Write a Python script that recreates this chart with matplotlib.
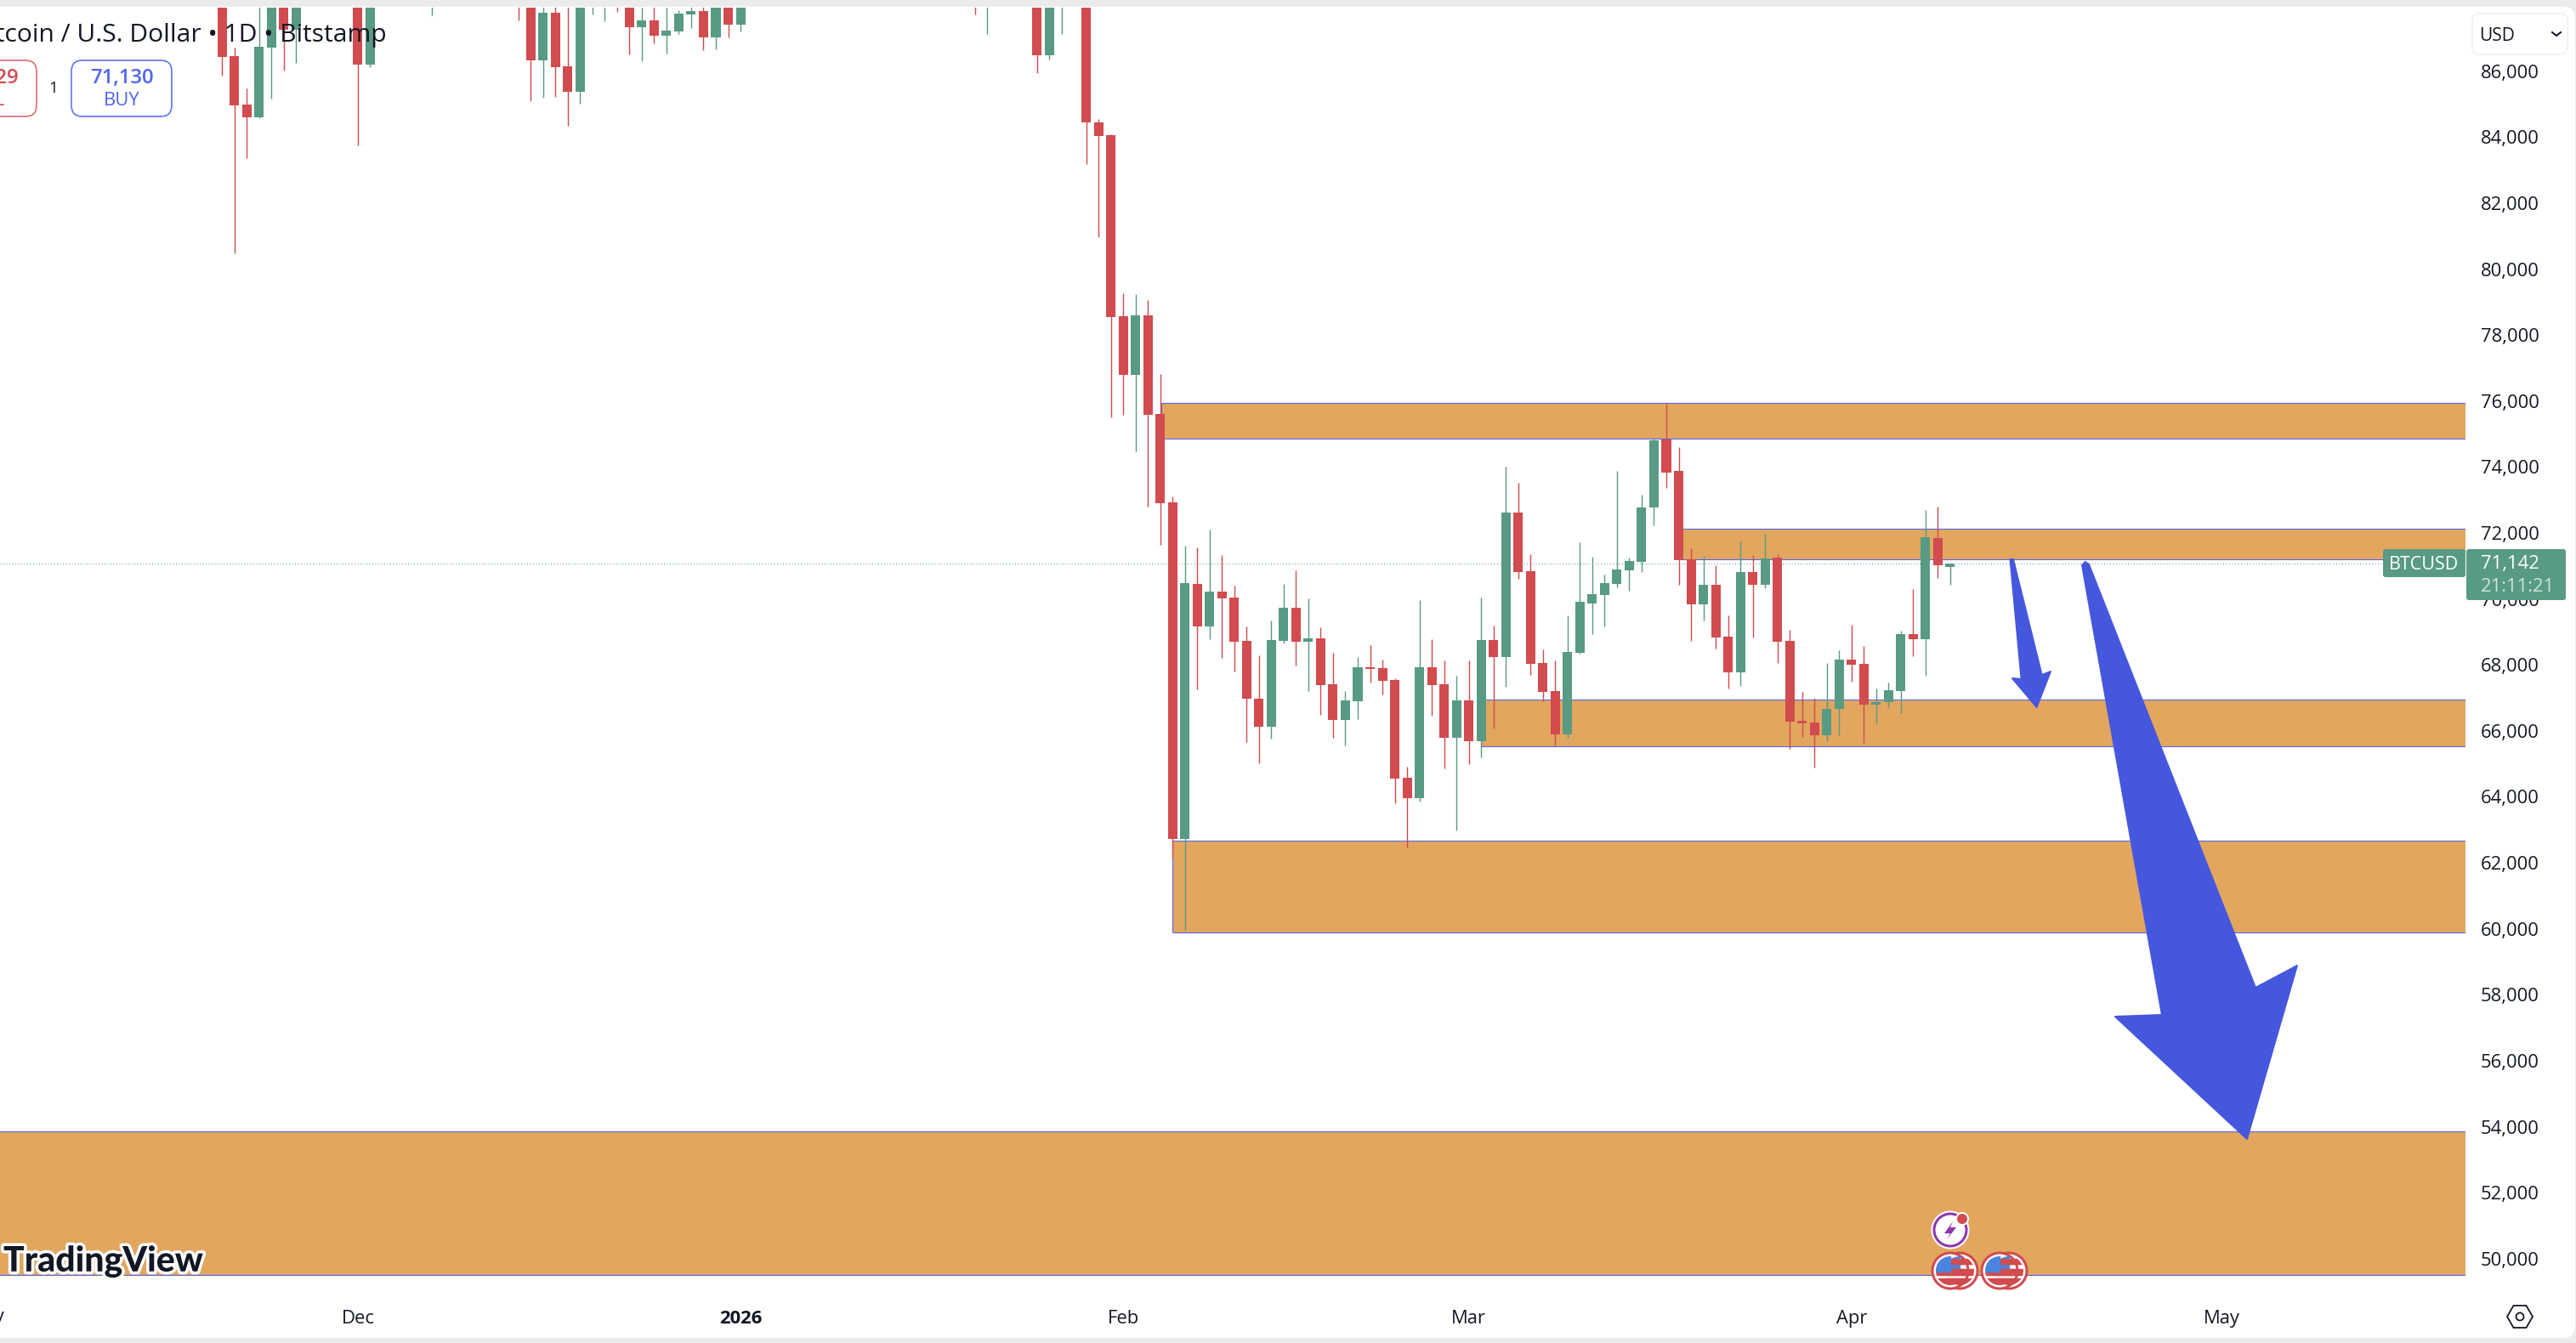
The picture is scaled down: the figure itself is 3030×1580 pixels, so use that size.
#!/usr/bin/env python3
import matplotlib
matplotlib.use("Agg")
import matplotlib.pyplot as plt
import matplotlib.patheffects as pe
from matplotlib.patches import Circle, FancyBboxPatch, Polygon, Rectangle, RegularPolygon
from matplotlib.transforms import ScaledTranslation

# candles: day number counted from 1 Jan 2026
days = [-42, -41, -40, -39, -38, -37, -36, -31, -30, -25, -18, -17, -16, -15, -14, -13,
        -12, -11, -10, -9, -8, -7, -6, -5, -4, -3, -2, -1, 0, 19, 20, 24, 25, 26] + list(range(28, 99))
opens = [88400, 86536, 85067, 84680, 86794, 88500, 87335, 89000, 86278, 88600, 88900, 88800, 86407, 87850, 86227, 85454,
         88600, 88600, 88900, 88400, 87412, 87618, 87154, 87283, 87799, 87902, 87103, 88300, 87489, 88900, 88600, 89300, 86560, 88600,
         88800, 84530, 84141, 78650, 76873, 78682, 75684, 73006, 62789, 70531, 69249, 70304, 70116, 68805, 67050, 66211,
         68815, 69811, 68785, 68884, 67493, 66418, 66980, 68006, 67976, 67622, 64653, 64051, 68006, 67493, 65876, 67000,
         65777, 68834, 68322, 72700, 70915, 68134, 67286, 65984, 68440, 69949, 70195, 70532, 70944, 71202, 72851, 74921,
         73959, 71271, 69914, 70506, 68934, 67852, 70893, 70506, 71331, 68805, 66383, 66331, 65945, 66744, 68238, 68110,
         66873, 66950, 67285, 69012, 68857, 71923, 71047]
highs = [89000, 86794, 85557, 88600, 89000, 89000, 89200, 89400, 89200, 89200, 89300, 89200, 88500, 88400, 88200, 89000,
         89200, 89100, 89300, 88800, 88400, 88100, 88200, 87927, 88300, 88200, 88700, 88600, 88800, 89300, 89200, 89600, 89000, 89200,
         89300, 84624, 84172, 79344, 79323, 79145, 76894, 73184, 71695, 71635, 72178, 71408, 70481, 69239, 68371, 69426,
         70531, 70945, 70097, 69219, 68440, 67286, 68312, 68677, 68243, 67671, 64988, 70038, 68854, 68213, 67750, 68213,
         70116, 69268, 74091, 73598, 71438, 68549, 68213, 69574, 71793, 71359, 70817, 73959, 71331, 73238, 74939, 76012,
         74681, 71614, 71382, 71099, 69578, 71820, 71408, 72052, 71434, 69140, 67259, 67079, 68135, 68522, 69295, 68651,
         67362, 67543, 69115, 70377, 72774, 72877, 71150]
lows = [85943, 80566, 83444, 84655, 85247, 86098, 86330, 83830, 86201, 87773, 87618, 85170, 85273, 85299, 84423, 85093,
        87799, 87593, 87876, 86588, 86381, 86922, 86613, 87206, 87386, 86716, 86742, 87103, 87283, 87799, 87206, 86023, 86444, 87201,
        83268, 81048, 75590, 75663, 74559, 72876, 71724, 62207, 60050, 67345, 68864, 68302, 67888, 65748, 65107, 65846,
        68736, 68065, 67296, 66576, 65876, 65649, 66448, 67552, 67188, 63894, 62553, 63943, 66546, 64949, 63065, 65077,
        65284, 66162, 67424, 70689, 67779, 66971, 65649, 65876, 68420, 69022, 69249, 70429, 70326, 70893, 72310, 73444,
        70506, 68805, 69424, 68573, 67362, 67439, 68908, 70403, 68135, 65533, 65893, 64966, 65765, 65945, 67568, 65713,
        66306, 66795, 66615, 68342, 67749, 70712, 70506]
closes = [86510, 85041, 84680, 86819, 88500, 87335, 88600, 86278, 88900, 89100, 88500, 86407, 87850, 86201, 85454, 88500,
          89000, 89000, 88500, 87412, 87618, 87154, 87309, 87824, 87902, 87103, 88300, 87489, 88500, 88500, 89000, 86560, 88700, 89000,
          84530, 84109, 78629, 76873, 78682, 75663, 72981, 62789, 70560, 69249, 70304, 70107, 68785, 67059, 66211, 68834,
          69811, 68785, 68884, 67474, 66418, 67000, 68006, 67957, 67602, 64643, 64051, 68006, 67474, 65876, 67000, 65777,
          68834, 68322, 72700, 70905, 68114, 67266, 65984, 68470, 69988, 70225, 70560, 70970, 71228, 72851, 74887, 73908,
          71253, 69914, 70506, 68908, 67852, 70893, 70506, 71305, 68780, 66357, 66306, 65945, 66744, 68238, 68084, 66873,
          66950, 67311, 69012, 68857, 71949, 71099, 71142]

# support and resistance zones: first day, top price, bottom price
zone_starts = [34.1, 76, 60, 35, -70]
zone_tops = [76012, 72206, 67025, 62746, 53936]
zone_bottoms = [74938, 71278, 65608, 59976, 49576]
zone_end = 139.74

# hand drawn projection arrows as (day, price) outlines
small_arrow = [(102.86, 71280), (103.10, 71280), (105.42, 67775), (106.13, 67878),
               (105.00, 66796), (103.03, 67672), (103.76, 67646)]
large_arrow = [(108.68, 71100), (108.93, 71203), (109.23, 71126), (122.73, 58292), (126.10, 58962),
               (122.04, 53705), (111.36, 57416), (115.15, 57468)]

price_ticks = list(range(50000, 88000, 2000))
month_days = [-31, 0, 31, 59, 90, 120]
month_labels = ["Dec", "2026", "Feb", "Mar", "Apr", "May"]
last_price = 71142

RED = "#D14B4F"
GREEN = "#589A84"
ORANGE = "#E2A65E"
EDGE_BLUE = "#5468EC"
ARROW_BLUE = "#4557DD"
FONT = "Open Sans"
PX = 0.72  # points per pixel at 100 dpi
W, H = 3030, 1580


def pixel_axes(fig, zorder):
    """Transparent axes over the whole figure, addressed in pixels from the top left."""
    a = fig.add_axes([0, 0, 1, 1], zorder=zorder)
    a.set_xlim(0, W)
    a.set_ylim(H, 0)
    a.axis("off")
    return a


def draw_chart(fig, ax):
    for start, top, bottom in zip(zone_starts, zone_tops, zone_bottoms):
        ax.add_patch(Rectangle((start, bottom), zone_end - start, top - bottom, facecolor=ORANGE,
                               edgecolor="none", zorder=1))
        ax.hlines([top, bottom], start, zone_end, color=EDGE_BLUE, lw=1.1 * PX, zorder=1.5)
        ax.vlines(start, bottom, top, color=EDGE_BLUE, lw=1.1 * PX, zorder=1.5)

    ax.axhline(last_price, color=GREEN, lw=1.0 * PX, ls=(0, (1, 2.5)), zorder=2)

    colors = [GREEN if c >= o else RED for o, c in zip(opens, closes)]
    ax.vlines(days, lows, highs, colors=colors, lw=1.4 * PX, zorder=3)
    body_low = [min(o, c) for o, c in zip(opens, closes)]
    body_size = [abs(o - c) for o, c in zip(opens, closes)]
    ax.bar(days, body_size, bottom=body_low, width=0.76, color=colors, linewidth=0, zorder=4)

    for outline in (small_arrow, large_arrow):
        ax.add_patch(Polygon(outline, closed=True, facecolor=ARROW_BLUE, edgecolor=ARROW_BLUE,
                             lw=2 * PX, joinstyle="round", zorder=5))

    ax.yaxis.tick_right()
    ax.set_yticks(price_ticks)
    ax.set_yticklabels([f"{p:,}" for p in price_ticks], fontsize=22 * PX, family=FONT, color="#131722")
    ax.set_xticks(month_days)
    ax.set_xticklabels(month_labels, fontsize=22 * PX, family=FONT, color="#131722")
    ax.get_xticklabels()[1].set_fontweight("bold")
    ax.tick_params(axis="y", length=0, pad=18 * PX)
    ax.tick_params(axis="x", length=0, pad=8 * PX)
    # price labels sit slightly above their level; tick_params resets transforms, so do this after it
    lift = ScaledTranslation(0, 3 / 100, fig.dpi_scale_trans)
    for label in ax.get_yticklabels():
        label.set_transform(label.get_transform() + lift)
    ax.text(-61, 48780, "Nov", fontsize=22 * PX, family=FONT, color="#131722", ha="center", va="top",
            transform=ax.transData + ScaledTranslation(0, -8 / 100, fig.dpi_scale_trans))
    for side in ax.spines.values():
        side.set_visible(False)
    ax.patch.set_alpha(0)


def flag_badge(ui, cx, cy):
    """Round economic event marker with a US flag inside."""
    r = 21
    ui.add_patch(Circle((cx, cy), r, facecolor="white", edgecolor=RED, lw=3 * PX, zorder=6))
    clip = Circle((cx, cy), r - 4, transform=ui.transData)
    parts = [Rectangle((cx - r, cy - 14), 2 * r, 6, color=RED),
             Rectangle((cx - r, cy - 2), 2 * r, 7, color=RED),
             Rectangle((cx - r, cy + 9), 2 * r, 9, color=RED),
             Rectangle((cx - r, cy - r), r, r + 1, color="#4A84DE")]
    for part in parts:
        part.set_zorder(6.1)
        ui.add_patch(part)
        part.set_clip_path(clip)


def draw_interface(back, ui):
    back.add_patch(FancyBboxPatch((-40, 8), 3069, 1566, boxstyle="round,pad=0,rounding_size=14",
                                  facecolor="white", edgecolor="none"))

    # symbol title and order buttons
    ui.text(455, 41, "Bitcoin / U.S. Dollar \u2022 1D \u2022 Bitstamp", fontsize=30 * PX, family=FONT,
            color="#131722", ha="right", va="center")
    ui.add_patch(FancyBboxPatch((-30, 71), 73, 66, boxstyle="round,pad=0,rounding_size=13",
                                facecolor="none", edgecolor="#D9686B", lw=1.6 * PX))
    ui.text(22, 92, "71,129", fontsize=24 * PX, family=FONT, weight="semibold", color=RED, ha="right", va="center")
    ui.text(6, 119, "SELL", fontsize=22 * PX, family=FONT, color=RED, ha="right", va="center")
    ui.text(63, 104, "1", fontsize=19 * PX, family=FONT, color="#131722", ha="center", va="center")
    ui.add_patch(FancyBboxPatch((84, 71), 118, 66, boxstyle="round,pad=0,rounding_size=13",
                                facecolor="none", edgecolor="#5A6EF5", lw=1.6 * PX))
    ui.text(143, 92, "71,130", fontsize=24 * PX, family=FONT, weight="semibold", color="#5066F0", ha="center", va="center")
    ui.text(143, 119, "BUY", fontsize=22 * PX, family=FONT, color="#5066F0", ha="center", va="center")

    # currency selector
    ui.add_patch(FancyBboxPatch((2908, 16), 112, 48, boxstyle="round,pad=0,rounding_size=9",
                                facecolor="white", edgecolor="#EEEEEE", lw=1.4 * PX))
    ui.text(2916, 42, "USD", fontsize=21 * PX, family=FONT, color="#131722", ha="left", va="center")
    ui.plot([3002, 3007, 3012], [38, 42, 38], color="#131722", lw=2 * PX)

    # last price tags
    ui.add_patch(FancyBboxPatch((2803, 646), 97, 33, boxstyle="round,pad=0,rounding_size=3",
                                facecolor=GREEN, edgecolor="none", zorder=6))
    ui.text(2851, 664, "BTCUSD", fontsize=21.5 * PX, family=FONT, color="white", ha="center", va="center", zorder=7)
    ui.add_patch(FancyBboxPatch((2901, 646), 117, 60, boxstyle="round,pad=0,rounding_size=3",
                                facecolor=GREEN, edgecolor="none", zorder=6))
    ui.text(2918, 663, "71,142", fontsize=22 * PX, family=FONT, color="white", ha="left", va="center", zorder=7)
    ui.text(2918, 691, "21:11:21", fontsize=22 * PX, family=FONT, color="#CFE3DB", ha="left", va="center", zorder=7)

    # watermark
    ui.text(4, 1484, "TradingView", fontsize=41 * PX, family="Lato", weight="black", color="#131722",
            ha="left", va="center", zorder=6,
            path_effects=[pe.withStroke(linewidth=7 * PX, foreground="white")])

    # event markers under the last candles
    ui.add_patch(Circle((2294, 1447), 21, facecolor="white", edgecolor="white", lw=3 * PX, zorder=6))
    ui.add_patch(Circle((2294, 1447), 19, facecolor="white", edgecolor="#8E35B0", lw=3 * PX, zorder=6.1))
    ui.add_patch(Polygon([(2297, 1437), (2287, 1451), (2294, 1451), (2290, 1458), (2301, 1444), (2294, 1444)],
                         closed=True, facecolor="#8E35B0", edgecolor="none", zorder=6.2))
    ui.add_patch(Circle((2308, 1434), 7, facecolor=RED, edgecolor="white", lw=2 * PX, zorder=6.3))
    for cx in (2305, 2294, 2363, 2352):
        flag_badge(ui, cx, 1495)

    # chart settings button
    ui.add_patch(RegularPolygon((2964, 1549), 6, radius=15, orientation=3.14159 / 6, facecolor="none",
                                edgecolor="#131722", lw=1.8 * PX))
    ui.add_patch(Circle((2964, 1549), 4.5, facecolor="none", edgecolor="#131722", lw=1.8 * PX))


def make_plot():
    fig = plt.figure(figsize=(W / 100, H / 100), dpi=100, facecolor="#EBEBEB")
    back = pixel_axes(fig, 0)
    # chart pane sits between the top strip and the time axis
    ax = fig.add_axes([0, (H - 1533) / H, 2900 / W, (1533 - 9) / H], zorder=1)
    ax.set_xlim(-59.99, 139.74)
    ax.set_ylim(48731, 88005)
    ui = pixel_axes(fig, 2)
    draw_chart(fig, ax)
    draw_interface(back, ui)
    fig.savefig("out.png", dpi=100, facecolor=fig.get_facecolor())
    plt.close(fig)


if __name__ == "__main__":
    make_plot()
